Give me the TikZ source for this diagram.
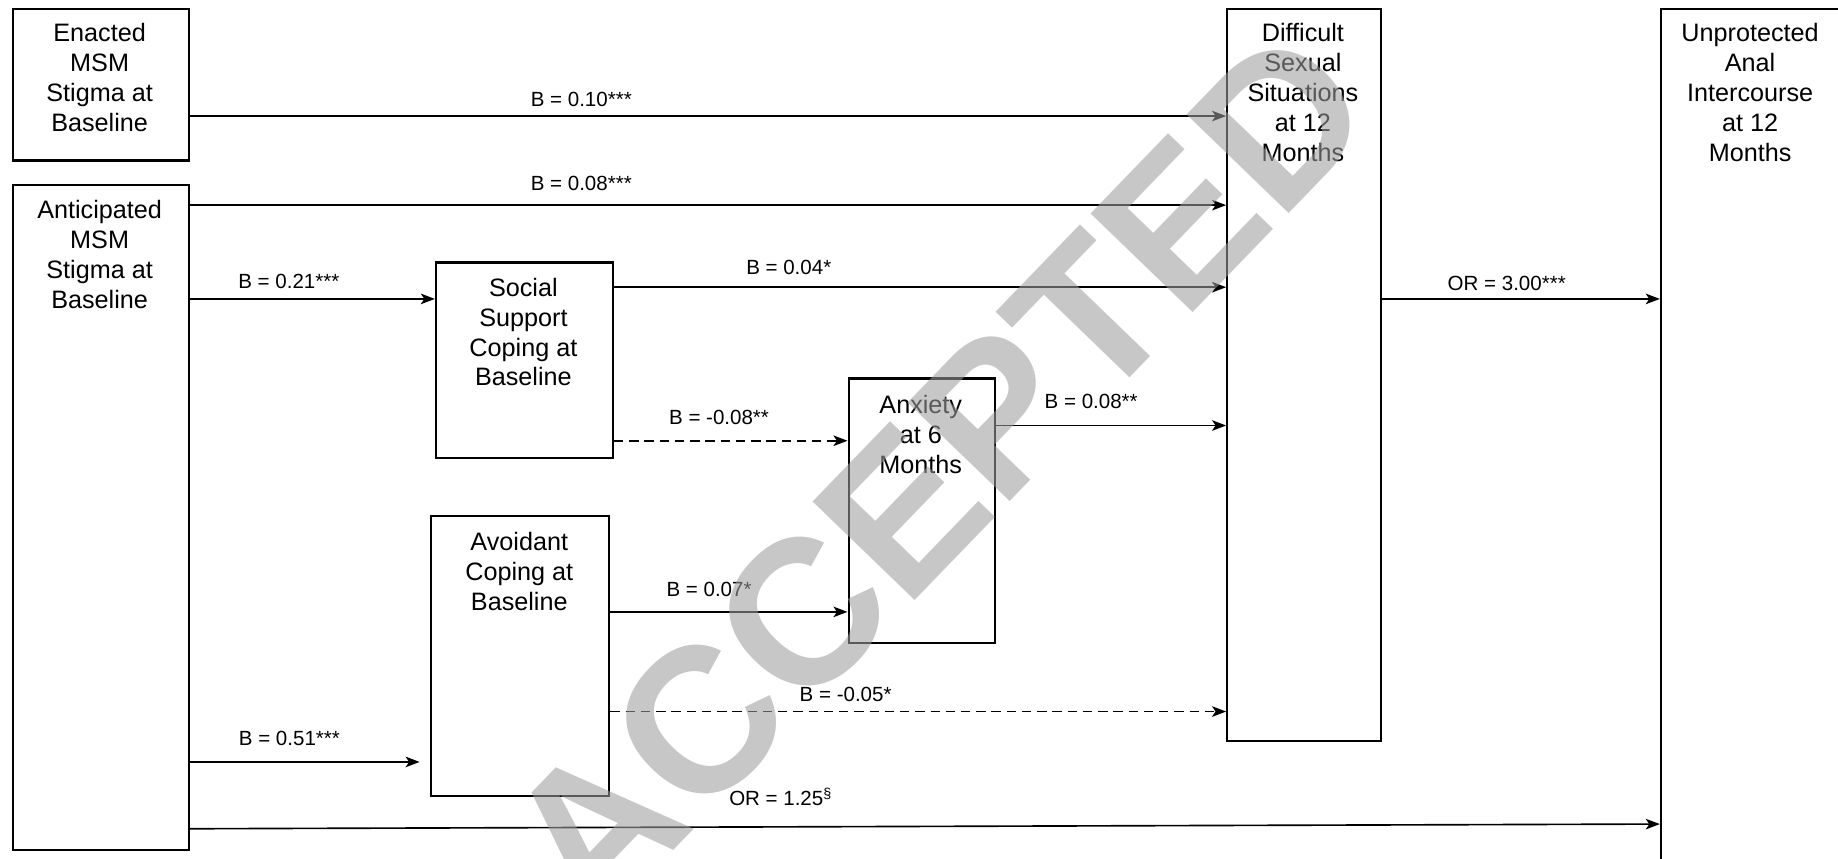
\documentclass[tikz,border=0pt]{standalone}
\usepackage{fontspec}
\setmainfont{Liberation Sans}
\usetikzlibrary{arrows.meta}
\definecolor{wm}{RGB}{158,158,158}
\begin{document}
\begin{tikzpicture}[x=1pt,y=-1pt,
  box/.style={draw, line width=1.8pt, inner sep=0pt, anchor=north west},
  txt/.style={align=center, font=\fontsize{21.5}{25.5}\selectfont, inner sep=0pt, anchor=north},
  arr/.style={-{Stealth[length=12pt,width=9pt,inset=3pt]}, line width=1.4pt},
  darr/.style={arr, dash pattern=on 8pt off 5pt},
  lab/.style={font=\fontsize{17.5}{20}\selectfont, inner sep=0pt}]
\useasboundingbox (0,0) rectangle (1568,732);
\clip (0,0) rectangle (1568,732);
\fill[white] (0,0) rectangle (1568,732);
% boxes
\node[box, minimum width=150pt, minimum height=129pt] (enact) at (10,7) {};
\node[box, minimum width=150pt, minimum height=567pt] (antic) at (10,157) {};
\node[box, minimum width=151pt, minimum height=167pt] (social) at (371,223) {};
\node[box, minimum width=152pt, minimum height=239pt] (avoid) at (367,439) {};
\node[box, minimum width=125pt, minimum height=226pt] (anx) at (723,322) {};
\node[box, minimum width=131pt, minimum height=624pt] (diff) at (1046,7) {};
\node[box, minimum width=156pt, minimum height=740pt] (unprot) at (1416,7) {};
% texts
\node[txt] (tenact) at (85,20) {Enacted\\MSM\\Stigma at\\Baseline};
\node[txt] (tantic) at (85,171) {Anticipated\\MSM\\Stigma at\\Baseline};
\node[txt] (tsocial) at (446.5,237) {Social\\Support\\Coping at\\Baseline};
\node[txt] (tavoid) at (443,454) {Avoidant\\Coping at\\Baseline};
\node[txt] (tanx) at (785.5,337) {Anxiety\\at 6\\Months};
\node[txt] (tdiff) at (1111.5,20) {Difficult\\Sexual\\Situations\\at 12\\Months};
\node[txt] (tunprot) at (1493,20) {Unprotected\\Anal\\Intercourse\\at 12\\Months};
% connectors
\draw[arr] (enact.east |- 0,99) -- node[lab, above=7pt, xshift=-108pt] {B = 0.10***} (diff.west |- 0,99);
\draw[arr] (antic.east |- 0,175) -- node[lab, above=12pt, xshift=-108pt] {B = 0.08***} (diff.west |- 0,175);
\draw[arr] (antic.east |- 0,255) -- node[lab, above=8pt, xshift=-20pt] {B = 0.21***} (social.west |- 0,255);
\draw[arr] (social.east |- 0,245) -- node[lab, above=10pt, xshift=-112pt] {B = 0.04*} (diff.west |- 0,245);
\draw[darr] (social.east |- 0,376) -- node[lab, above=13pt, xshift=-10pt] {B = -0.08**} (anx.west |- 0,376);
\draw[arr] (anx.east |- 0,363) -- node[lab, above=14pt, xshift=-17pt] {B = 0.08**} (diff.west |- 0,363);
\draw[arr] (avoid.east |- 0,522) -- node[lab, above=12pt, xshift=-17pt] {B = 0.07*} (anx.west |- 0,522);
\draw[darr] (avoid.east |- 0,607) -- node[lab, above=8pt, xshift=-62pt] {B = -0.05*} (diff.west |- 0,607);
\coordinate (avin) at (358,650);
\draw[arr] (antic.east |- 0,650) -- node[lab, above=13pt, xshift=-13pt] {B = 0.51***} (avin);
\draw[arr] (antic.east |- 0,707) -- node[lab, above=17pt, xshift=-123pt] {OR = 1.25\textsuperscript{§}} (unprot.west |- 0,703);
\draw[arr] (diff.east |- 0,255) -- node[lab, above=6pt, xshift=-12pt] {OR = 3.00***} (unprot.west |- 0,255);
% watermark
\node[rotate=46, font=\bfseries\fontsize{176}{176}\selectfont, text=wm, text opacity=0.57, inner sep=0pt] (wmark) at (800,405) {ACCEPTED};
\end{tikzpicture}
\end{document}
